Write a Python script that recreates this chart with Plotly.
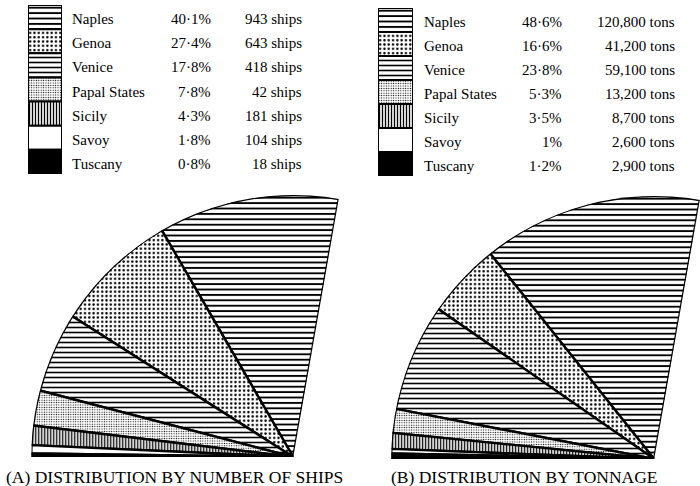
import numpy as np
import plotly.graph_objects as go

# ---------------- data ----------------
states = ["Naples", "Genoa", "Venice", "Papal States", "Sicily", "Savoy", "Tuscany"]

ships_pct = [40.1, 27.4, 17.8, 7.8, 4.3, 1.8, 0.8]
ships_pct_labels = ["40·1%", "27·4%", "17·8%", "7·8%", "4·3%", "1·8%", "0·8%"]
ships_count_labels = ["943 ships", "643 ships", "418 ships", "42 ships",
                      "181 ships", "104 ships", "18 ships"]

tons_pct = [48.6, 16.6, 23.8, 5.3, 3.5, 1.0, 1.2]
tons_pct_labels = ["48·6%", "16·6%", "23·8%", "5·3%", "3·5%", "1%", "1·2%"]
tons_count_labels = ["120,800 tons", "41,200 tons", "59,100 tons", "13,200 tons",
                     "8,700 tons", "2,600 tons", "2,900 tons"]

captions = ["(A) DISTRIBUTION BY NUMBER OF SHIPS", "(B) DISTRIBUTION BY TONNAGE"]

# ---------------- styles ----------------
W, H = 700, 486
SERIF = "Liberation Serif, Times New Roman, serif"
shapes_ = ["-", ".", "-", ".", "|", "", ""]
psize = [5.4, 4.3, 5.0, 2.4, 3.0, 8, 8]
psol = [0.35, 0.24, 0.32, 0.22, 0.45, 0.3, 0.3]
fills = ["white", "white", "white", "white", "white", "white", "black"]

SPAN = 100.0   # the fan covers 100 degrees (1% = 1 degree)
START = 80.0


def px(x):
    return x / W


def py(y):
    return 1 - y / H


def marker_for(i, lw):
    m = dict(color=fills[i], line=dict(color="black", width=lw))
    if shapes_[i]:
        m["pattern"] = dict(shape=shapes_[i], size=psize[i], solidity=psol[i],
                            fgcolor="black", fgopacity=1, bgcolor="white")
    return m


fig = go.Figure()


def add_fan(pcts, polar_name):
    w = np.array(pcts, dtype=float) / 100.0 * SPAN
    starts = START + np.concatenate([[0], np.cumsum(w)[:-1]])
    centers = starts + w / 2
    for i in range(len(pcts)):
        fig.add_trace(go.Barpolar(
            r=[1], theta=[centers[i]], width=[w[i]],
            marker=marker_for(i, 2.4),
            subplot=polar_name, showlegend=False, hoverinfo="skip"))


def add_swatches(xaxis, yaxis):
    n = len(states)
    for i in range(n):
        fig.add_trace(go.Bar(
            x=[0], y=[1], base=[n - 1 - i], width=1,
            marker=marker_for(i, 2),
            xaxis=xaxis, yaxis=yaxis, showlegend=False, hoverinfo="skip"))


add_fan(ships_pct, "polar")
add_fan(tons_pct, "polar2")
add_swatches("x", "y")
add_swatches("x2", "y2")

polar_common = dict(
    sector=[80, 180],
    bgcolor="rgba(0,0,0,0)",
    radialaxis=dict(visible=False, range=[0, 1]),
    angularaxis=dict(visible=False, direction="counterclockwise", rotation=0),
)

# fan A: apex (293,457), R=262 ; fan B: apex (655,459), R=263
fig.update_layout(
    polar=dict(domain=dict(x=[px(31), px(339)], y=[py(457), py(195)]), **polar_common),
    polar2=dict(domain=dict(x=[px(391), px(700)], y=[py(459), py(196)]), **polar_common),
)

ax_common = dict(visible=False, fixedrange=True)
fig.update_layout(
    xaxis=dict(domain=[px(28), px(62)], range=[-0.5, 0.5], **ax_common),
    yaxis=dict(domain=[py(174), py(5)], range=[0, 7], **ax_common),
    xaxis2=dict(domain=[px(378), px(413)], range=[-0.5, 0.5], **ax_common),
    yaxis2=dict(domain=[py(176), py(8)], range=[0, 7], **ax_common),
)

annotations = []


def legend_text(yref, name_x, pct_x, cnt_x, pcts, cnts, ys):
    n = len(states)
    for i in range(n):
        yc = n - 1 - i + 0.5
        common = dict(xref="paper", yref=yref, y=yc, yanchor="middle", showarrow=False,
                      font=dict(family=SERIF, size=15, color="black"), yshift=ys)
        annotations.append(dict(x=px(name_x), xanchor="left", text=states[i], **common))
        annotations.append(dict(x=px(pct_x), xanchor="right", text=pcts[i], **common))
        annotations.append(dict(x=px(cnt_x), xanchor="right", text=cnts[i], **common))


legend_text("y", 70, 213, 304, ships_pct_labels, ships_count_labels, -2)
legend_text("y2", 422, 564, 677, tons_pct_labels, tons_count_labels, -1.5)

for cap, cx in zip(captions, [174, 524]):
    annotations.append(dict(xref="paper", yref="paper", x=px(cx), y=py(477),
                            xanchor="center", yanchor="middle", showarrow=False,
                            text=cap, font=dict(family=SERIF, size=17.5, color="black")))

fig.update_layout(
    width=W, height=H, autosize=False,
    margin=dict(l=0, r=0, t=0, b=0),
    paper_bgcolor="white", plot_bgcolor="white",
    annotations=annotations,
    barmode="overlay",
)

fig.write_html("out.html", config={"displayModeBar": False, "staticPlot": True},
               post_script="document.body.style.margin='0';document.body.style.overflow='hidden';")
